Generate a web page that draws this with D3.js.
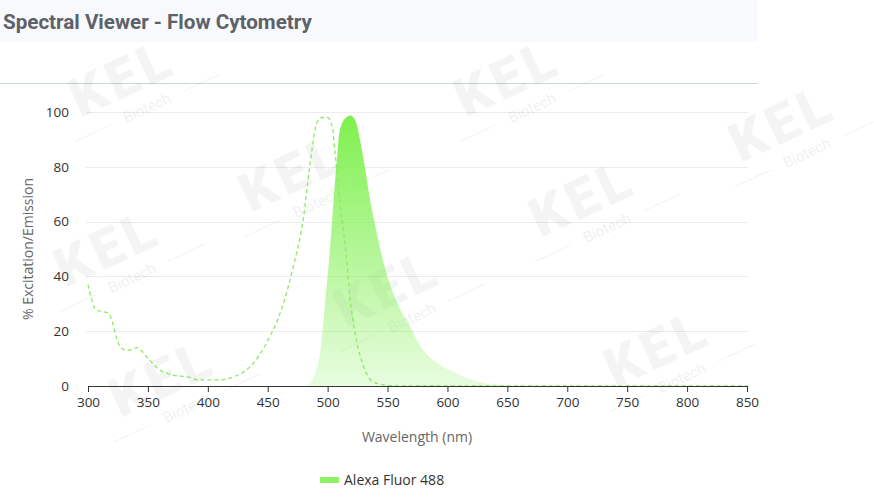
<!DOCTYPE html>
<html>
<head>
<meta charset="utf-8">
<script src="https://cdn.jsdelivr.net/npm/d3@7"></script>
<style>
  body { margin: 0; background: #fff; }
  #chart svg { display: block; }
</style>
</head>
<body>
<div id="chart"></div>
<script>
// ---------------------------- DATA ----------------------------//
const seriesName = "Alexa Fluor 488";
const xTicks = [300, 350, 400, 450, 500, 550, 600, 650, 700, 750, 800, 850];
const yTicks = [0, 20, 40, 60, 80, 100];

// excitation (dashed)
const exWl  = [300, 307, 317, 327, 333, 341, 349, 360, 371, 383, 393, 410, 421, 435, 449, 463, 471, 480, 485, 491, 495, 500, 504, 506, 510, 515, 519, 523, 529, 538, 549, 560, 850];
const exVal = [37, 27.7, 26.6, 14.2, 13, 14, 10.6, 5.8, 4, 3.3, 2.2, 2.2, 3.3, 6.9, 15.7, 30, 43, 62, 80, 96, 98, 98, 94.5, 86, 68, 50, 31, 19, 8.4, 1.5, 0.3, 0, 0];

// emission (filled)
const emWl  = [483, 488, 494, 498, 502, 505, 508, 510, 515, 519, 523, 527, 531, 535, 540, 545, 552, 560, 569, 577, 585, 594, 605, 616, 627, 640, 652, 850];
const emVal = [0.3, 3, 13, 31, 50, 68, 84, 93, 97.8, 98.7, 97, 90, 80, 69, 58, 48, 37, 28.5, 21.5, 14.8, 10.5, 7.7, 5.1, 2.9, 1.5, 0.6, 0, 0];

// watermark positions (centre of "KEL")
const wmX = [130, 515, 790, 300, 590, 115, 395, 665, 170];
const wmY = [95, 95, 140, 190, 215, 265, 305, 365, 395];

// ---------------------------- SVG -----------------------------//
const W = 874, H = 501;
const svg = d3.select("#chart").append("svg")
    .attr("width", W).attr("height", H);

const font = "'Open Sans', 'Noto Sans', sans-serif";

// header band
svg.append("rect").attr("x", 0).attr("y", 0).attr("width", 758).attr("height", 42)
    .attr("fill", "#f8f9fc");
svg.append("text").attr("x", 3).attr("y", 29)
    .attr("font-family", "Roboto, sans-serif").attr("font-weight", "bold")
    .attr("font-size", 20.6).attr("fill", "#5d6168")
    .text("Spectral Viewer - Flow Cytometry");
svg.append("line").attr("x1", 0).attr("x2", 758).attr("y1", 83.5).attr("y2", 83.5)
    .attr("stroke", "#c9d6da");

// --------------------------- SCALES ---------------------------//
const x = d3.scaleLinear().domain([300, 850]).range([88, 747]);
const y = d3.scaleLinear().domain([0, 100]).range([386, 112]);

// gridlines
svg.append("g").selectAll("line").data(yTicks.filter(d => d > 0)).enter()
    .append("line")
    .attr("x1", 86).attr("x2", 748)
    .attr("y1", d => Math.round(y(d)) + 0.5).attr("y2", d => Math.round(y(d)) + 0.5)
    .attr("stroke", "#ececec");

// watermarks
const wm = svg.append("g").attr("pointer-events", "none");
wmX.forEach(function(cx, i) {
    const g = wm.append("g").attr("transform", "translate(" + cx + "," + wmY[i] + ") rotate(-25)");
    g.append("text").attr("text-anchor", "middle").attr("y", 0)
        .attr("font-family", "Roboto, sans-serif").attr("font-weight", 900)
        .attr("font-size", 54).attr("fill", "#000").attr("opacity", 0.04)
        .attr("letter-spacing", 5)
        .text("KEL");
    g.append("text").attr("text-anchor", "middle").attr("x", 10).attr("y", 24)
        .attr("font-family", "Roboto, sans-serif")
        .attr("font-size", 15).attr("fill", "#000").attr("opacity", 0.05)
        .text("Biotech");
    g.append("line").attr("x1", -70).attr("x2", -30).attr("y1", 19).attr("y2", 19)
        .attr("stroke", "#000").attr("opacity", 0.045);
    g.append("line").attr("x1", 50).attr("x2", 90).attr("y1", 19).attr("y2", 19)
        .attr("stroke", "#000").attr("opacity", 0.045);
});

// gradient
const defs = svg.append("defs");
const grad = defs.append("linearGradient").attr("id", "emGrad")
    .attr("x1", 0).attr("y1", 0).attr("x2", 0).attr("y2", 1);
grad.append("stop").attr("offset", "0%").attr("stop-color", "#7ff04f");
grad.append("stop").attr("offset", "100%").attr("stop-color", "#7ff04f").attr("stop-opacity", 0.18);

// ---------------------------- MARKS ---------------------------//
const em = emWl.map((w, i) => ({ w: w, v: emVal[i] }));
const ex = exWl.map((w, i) => ({ w: w, v: exVal[i] }));

const area = d3.area().curve(d3.curveMonotoneX)
    .x(d => x(d.w)).y0(y(0)).y1(d => y(d.v));
svg.append("path").datum(em)
    .attr("d", area).attr("fill", "url(#emGrad)");

const line = d3.line().curve(d3.curveMonotoneX)
    .x(d => x(d.w)).y(d => y(d.v));
svg.append("path").datum(ex)
    .attr("d", line).attr("fill", "none")
    .attr("stroke", "#8fe866").attr("stroke-width", 1.3)
    .attr("stroke-dasharray", "4,3");

// ---------------------------- AXES ----------------------------//
const xAxis = svg.append("g").attr("transform", "translate(0,386)")
    .call(d3.axisBottom(x).tickValues(xTicks).tickSize(6).tickSizeOuter(0).tickPadding(5));
xAxis.select(".domain").attr("stroke", "#333");
xAxis.selectAll(".tick line").attr("stroke", "#333");
xAxis.selectAll("text").attr("font-family", font).attr("font-size", 13.5).attr("fill", "#333");

const yAxis = svg.append("g").attr("transform", "translate(88,0)")
    .call(d3.axisLeft(y).tickValues(yTicks).tickSize(0).tickPadding(19));
yAxis.select(".domain").remove();
yAxis.selectAll("text").attr("font-family", font).attr("font-size", 13.5).attr("fill", "#333");

svg.append("text").attr("x", 417).attr("y", 442).attr("text-anchor", "middle")
    .attr("font-family", font).attr("font-size", 14).attr("fill", "#666")
    .text("Wavelength (nm)");
svg.append("text").attr("transform", "translate(33,249) rotate(-90)")
    .attr("text-anchor", "middle")
    .attr("font-family", font).attr("font-size", 14).attr("fill", "#666")
    .text("% Excitation/Emission");

// --------------------------- LEGEND ---------------------------//
svg.append("rect").attr("x", 320).attr("y", 477).attr("width", 19).attr("height", 6)
    .attr("fill", "#8ff064");
svg.append("text").attr("x", 344).attr("y", 485)
    .attr("font-family", font).attr("font-size", 14).attr("fill", "#333")
    .text(seriesName);
</script>
</body>
</html>
